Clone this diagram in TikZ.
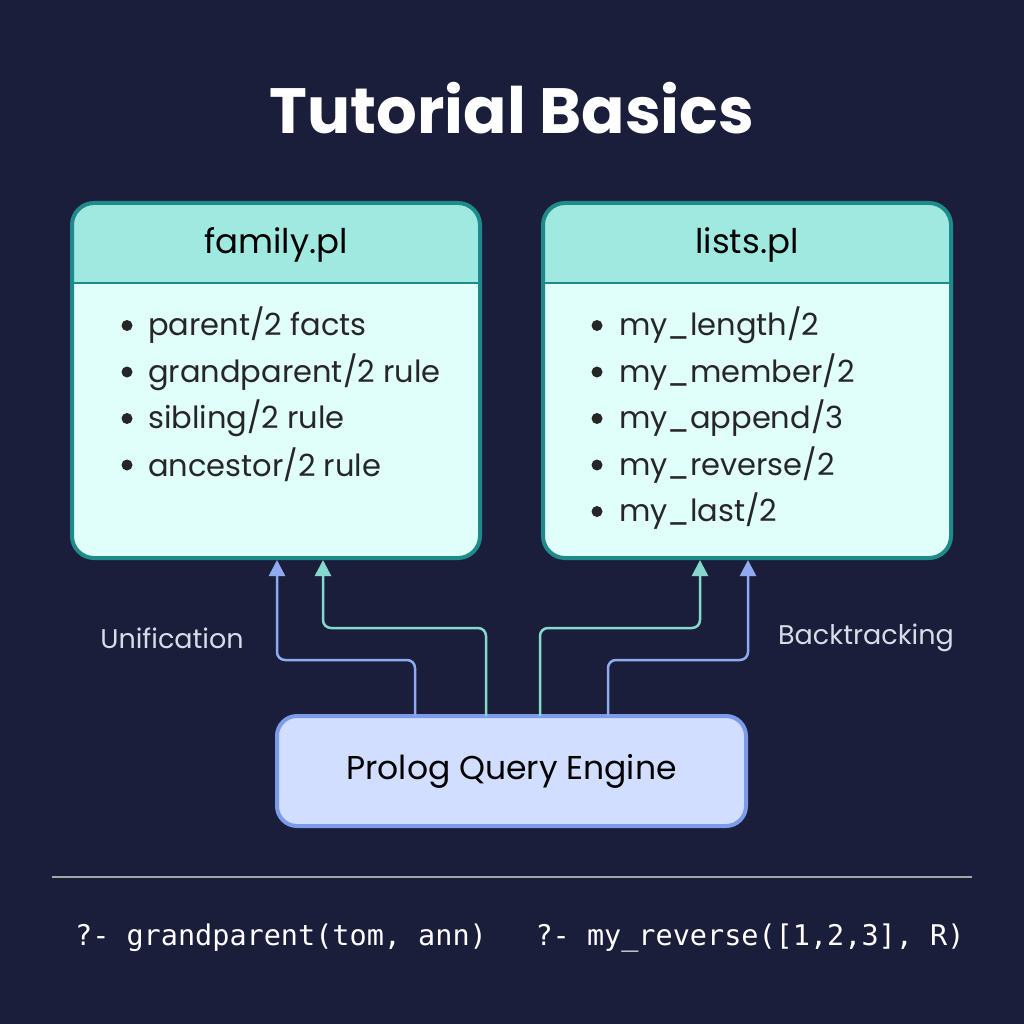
\documentclass[tikz,border=0pt]{standalone}
\usepackage{fontspec}
\setmainfont{Poppins}
\setmonofont{DejaVu Sans Mono}
\usetikzlibrary{arrows.meta}
\definecolor{bg}{HTML}{1B1E3A}
\definecolor{teal}{HTML}{1F8A8A}
\definecolor{head}{HTML}{A0E9E1}
\definecolor{body}{HTML}{E0FFFA}
\definecolor{eng}{HTML}{D2DEFF}
\definecolor{engb}{HTML}{7C9BE8}
\definecolor{ablue}{HTML}{8FAAF0}
\definecolor{ateal}{HTML}{86D8CE}
\definecolor{lbl}{HTML}{D8DCE8}
\tikzset{
 item/.style={anchor=west,inner sep=0pt,font=\fontsize{30.5}{32}\selectfont,text=black!85},
 conn/.style={line width=2.5pt,-{Triangle[length=16pt,width=16pt]}},
}
\begin{document}
\begin{tikzpicture}[x=1pt,y=-1pt]
\fill[bg] (0,0) rectangle (1024,1024);
\useasboundingbox (0,0) rectangle (1024,1024);
\node (title) at (512,108) {\fontsize{64}{64}\selectfont\bfseries\color{white}Tutorial Basics};
\foreach \x/\n in {72/fam,543/lst}{
 \begin{scope}
 \path[fill=body,rounded corners=22] (\x,203) rectangle (\x+408,558);
 \path[clip,rounded corners=22] (\x,203) rectangle (\x+408,558);
 \fill[head] (\x,203) rectangle (\x+408,283);
 \end{scope}
 \draw[teal,line width=1.5pt] (\x,283) -- (\x+408,283);
 \draw[teal,line width=4pt,rounded corners=22] (\x,203) rectangle (\x+408,558);
 \coordinate (\n) at (\x,0);
}
\node (famt) at (276,245) {\fontsize{34}{35}\selectfont family.pl};
\node (lstt) at (747,245) {\fontsize{34}{35}\selectfont lists.pl};
\foreach \t [count=\i] in {parent/2 facts,grandparent/2 rule,sibling/2 rule,ancestor/2 rule}{
 \fill[black!85] (127,279+46.5*\i) circle (5.5pt);
 \node[item] (f\i) at (148,279+46.5*\i) {\t};}
\foreach \t [count=\i] in {my\_length/2,my\_member/2,my\_append/3,my\_reverse/2,my\_last/2}{
 \fill[black!85] (597,279+46.5*\i) circle (5.5pt);
 \node[item] (l\i) at (619,279+46.5*\i) {\t};}
\node[draw=engb,fill=eng,line width=4pt,rounded corners=20,minimum width=469pt,minimum height=110pt,font=\fontsize{33}{35}\selectfont] (engine) at (511.5,771) {Prolog Query Engine};
\coordinate (a1) at (277,560); \coordinate (a2) at (323,560);
\coordinate (a3) at (700,560); \coordinate (a4) at (748,560);
\draw[conn,ablue,rounded corners=8] (415,716) |- (277,660) -- (a1);
\draw[conn,ateal,rounded corners=8] (486,716) |- (323,628) -- (a2);
\draw[conn,ateal,rounded corners=8] (540,716) |- (700,628) -- (a3);
\draw[conn,ablue,rounded corners=8] (608,716) |- (748,660) -- (a4);
\node[text=lbl,font=\fontsize{27}{28}\selectfont] (u) at (172,638) {Unification};
\node[text=lbl,font=\fontsize{27}{28}\selectfont] (b) at (866,638) {Backtracking};
\draw[gray!70,line width=1.5pt] (52,877) -- (972,877);
\node[text=white,font=\ttfamily\fontsize{28.5}{30}\selectfont] (q1) at (281,938) {?- grandparent(tom, ann)};
\node[text=white,font=\ttfamily\fontsize{28.5}{30}\selectfont] (q2) at (750,938) {?- my\_reverse([1,2,3], R)};
\end{tikzpicture}
\end{document}
